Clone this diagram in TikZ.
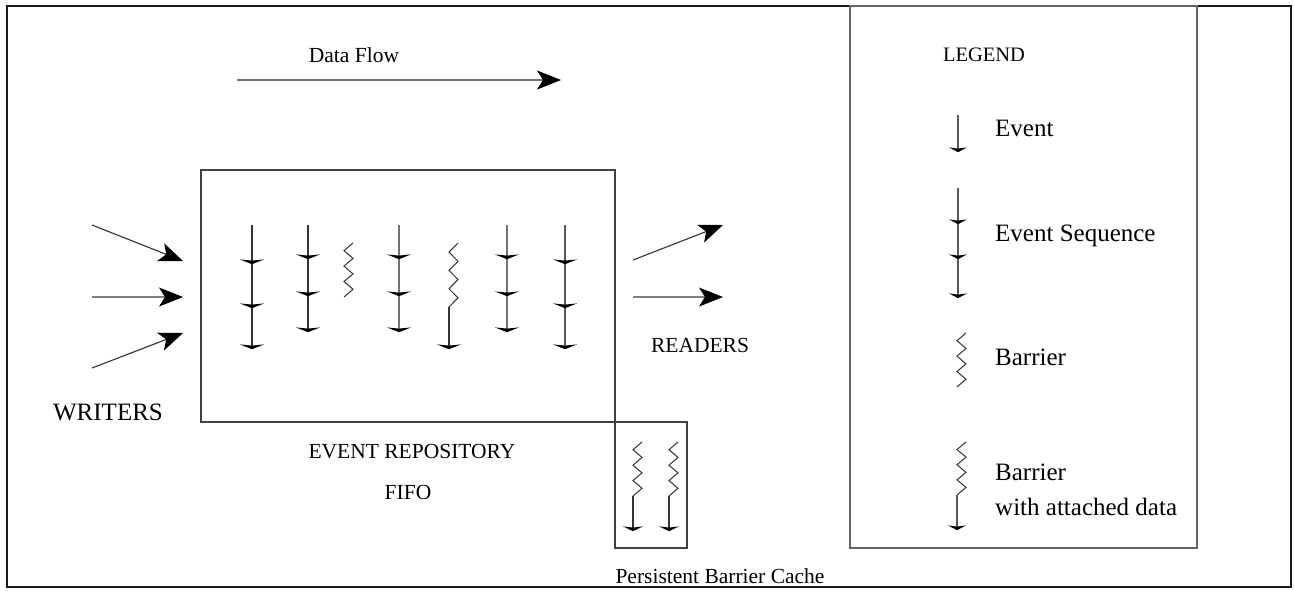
\documentclass[tikz,border=0pt]{standalone}
\usepackage{fontspec}
\setmainfont{Liberation Serif}
\usetikzlibrary{arrows.meta}
\newcommand\evtick[3]{\fill[black] (#1-#3,#2-3.6) -- (#1,#2+1.2) -- (#1+#3,#2-3.6) -- (#1,#2-2.4) -- cycle;}
\newcommand\zigzag[3]{\draw[zz] ({#1+9},#2) \foreach \i in {1,...,7}{ -- ({#1+9*mod(\i+1,2)},{#2+(#3-#2)*\i/7}) };}
\begin{document}
\begin{tikzpicture}[x=1pt,y=-1pt,
  every node/.style={font=\fontsize{21.5}{26}\selectfont, inner sep=0pt},
  leg/.style={font=\fontsize{25}{30}\selectfont, anchor=west},
  box/.style={draw=black!75, line width=1.2pt},
  evline/.style={draw=black!80, line width=1.1pt},
  zz/.style={draw=black!80, line width=1pt, line join=miter},
  bigarrow/.style={line width=1.1pt, -{Stealth[length=24pt,width=19pt,inset=6pt,color=black]}},
]
\useasboundingbox (0,0) rectangle (1294,590);
% outer frame
\draw[line width=2.6pt, black!90] (7,6) rectangle (1291,587);
% boxes
\draw[box] (201,170) rectangle (615,422);
\draw[box] (615,422) rectangle (687,548);
\draw[box, draw=black!60] (850,6) rectangle (1197,548);

% data flow
\node (df) at (354,55) {Data Flow};
\coordinate (dfa) at (237,80);
\coordinate (dfb) at (561,80);
\draw[bigarrow, black!55] (dfa) -- (dfb);

% writers arrows
\coordinate (w1a) at (92,225); \coordinate (w1b) at (183,261);
\coordinate (w2a) at (92,297); \coordinate (w2b) at (183,297);
\coordinate (w3a) at (92,368); \coordinate (w3b) at (183,333);
\draw[bigarrow, black!80] (w1a) -- (w1b);
\draw[bigarrow, black!50] (w2a) -- (w2b);
\draw[bigarrow, black!80] (w3a) -- (w3b);
% readers arrows
\coordinate (r1a) at (633,260); \coordinate (r1b) at (723,225);
\coordinate (r2a) at (633,297); \coordinate (r2b) at (723,297);
\draw[bigarrow, black!80] (r1a) -- (r1b);
\draw[bigarrow, black!50] (r2a) -- (r2b);

% labels
\node[font=\fontsize{25}{30}\selectfont] (writers) at (108,412) {WRITERS};
\node (readers) at (700,345) {READERS};
\node (erep) at (412,452) {EVENT REPOSITORY};
\node (fifo) at (408,492) {FIFO};
\node (pbc) at (720,576) {Persistent Barrier Cache};
\node[font=\fontsize{20.5}{24}\selectfont] (legend) at (984,55) {LEGEND};

% repository columns
\draw[evline] (252,225) -- (252,348);
\evtick{252}{263}{12}\evtick{252}{307}{12}\evtick{252}{348}{12}
\draw[evline] (308,225) -- (308,331);
\evtick{308}{258}{12}\evtick{308}{295}{12}\evtick{308}{331}{12}
\zigzag{344}{243}{297}
\draw[evline, black!55] (399,225) -- (399,331);
\evtick{399}{258}{12}\evtick{399}{295}{12}\evtick{399}{331}{12}
\zigzag{449}{243}{307}
\draw[evline] (449,307) -- (449,348);
\evtick{449}{348}{12}
\draw[evline, black!55] (507,225) -- (507,331);
\evtick{507}{258}{12}\evtick{507}{295}{12}\evtick{507}{331}{12}
\draw[evline, black!65] (565,225) -- (565,348);
\evtick{565}{263}{12}\evtick{565}{307}{12}\evtick{565}{348}{12}

% cache
\zigzag{633}{442}{496}
\draw[evline] (633,496) -- (633,530);
\evtick{633}{530}{10}
\zigzag{669}{442}{496}
\draw[evline] (669,496) -- (669,530);
\evtick{669}{530}{10}

% legend items
\draw[evline, black!65] (958,115) -- (958,151);
\evtick{958}{151}{9}
\node[leg] (l1) at (995,128) {Event};
\draw[evline, black!65] (958,188) -- (958,297);
\evtick{958}{223}{9}\evtick{958}{258}{9}\evtick{958}{297}{9}
\node[leg] (l2) at (995,236) {Event Sequence};
\zigzag{957}{333}{387}
\node[leg] (l3) at (995,357) {Barrier};
\zigzag{957}{442}{495}
\draw[evline, black!65] (957,495) -- (957,529);
\evtick{957}{529}{9}
\node[leg] (l4) at (995,472) {Barrier};
\node[leg] (l5) at (995,507) {with attached data};
\end{tikzpicture}
\end{document}
